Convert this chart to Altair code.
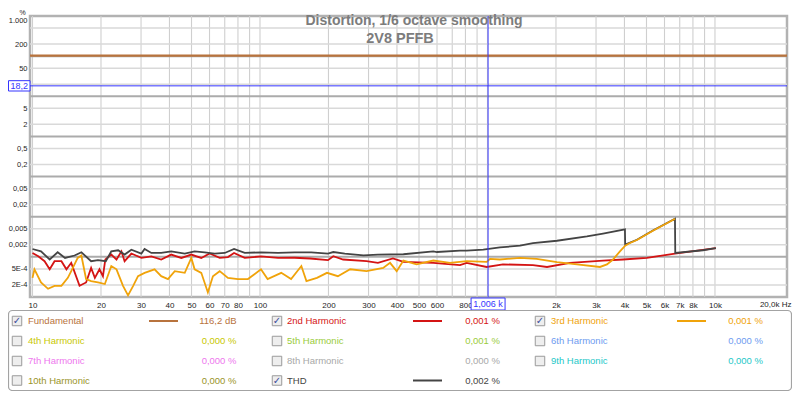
import altair as alt
import pandas as pd

# ---------------- data ----------------
title_line1 = "Distortion, 1/6 octave smoothing"
title_line2 = "2V8 PFFB"

thd_freq = [10, 10.9, 11.9, 12.9, 13.9, 15.3, 16.4, 18.1, 19.4, 21.0, 22.2, 23.8, 25.4, 27.2,
            30.1, 31.1, 33.3, 36.8, 40.7, 46.7, 51.6, 57.1, 63.2, 70.0, 76.9, 85.7, 101, 120,
            142, 168, 199, 210, 236, 285, 330, 427, 578, 600, 757, 810, 958, 1134, 1390, 1585,
            2020, 2736, 3220, 4020, 4030, 4540, 5335, 6670, 6690, 8850, 10090]
thd_pct = [0.00157, 0.00137, 0.00086, 0.00130, 0.00094, 0.00108, 0.00130, 0.00078, 0.00083,
           0.00078, 0.00137, 0.00146, 0.00114, 0.00151, 0.00121, 0.00157, 0.00125, 0.00125,
           0.00137, 0.00121, 0.00137, 0.00130, 0.00121, 0.00125, 0.00157, 0.00125, 0.00130,
           0.00125, 0.00130, 0.00130, 0.00121, 0.00132, 0.00121, 0.00109, 0.00114, 0.00116,
           0.00137, 0.00132, 0.00143, 0.00143, 0.00151, 0.00172, 0.00190, 0.00220, 0.00252,
           0.00322, 0.00381, 0.00487, 0.00201, 0.00267, 0.00452, 0.00893, 0.00125, 0.00146,
           0.00166]

h2_freq = [10, 10.6, 11.3, 11.9, 12.5, 13.4, 14.1, 14.8, 16.1, 17.2, 18.1, 18.8, 19.7, 20.4,
           20.9, 22.2, 23.4, 24.6, 25.4, 27.2, 30.1, 33.3, 36.8, 40.7, 45.1, 49.9, 55.2, 60.1,
           66.5, 72.3, 76.9, 85.7, 101, 120, 142, 166, 199, 210, 232, 294, 330, 384, 427, 578,
           757, 810, 992, 1170, 1585, 1827, 2305, 3220, 3943, 5020, 6670, 10090]
h2_pct = [0.00125, 0.00103, 0.00078, 0.00049, 0.00078, 0.00078, 0.00049, 0.00071, 0.00019,
          0.00023, 0.00053, 0.00030, 0.00049, 0.00033, 0.00086, 0.00114, 0.00086, 0.00137,
          0.00078, 0.00121, 0.00094, 0.00103, 0.00086, 0.00114, 0.00094, 0.00114, 0.00094,
          0.00121, 0.00094, 0.00099, 0.00125, 0.00094, 0.00103, 0.00094, 0.00095, 0.00091,
          0.00083, 0.00104, 0.00086, 0.00078, 0.00071, 0.00091, 0.00075, 0.00071, 0.00062,
          0.00071, 0.00056, 0.00065, 0.00062, 0.00056, 0.00071, 0.00081, 0.00086, 0.00094,
          0.00121, 0.00166]

h3_freq = [10, 10.2, 10.9, 11.7, 12.5, 13.4, 14.3, 14.8, 15.8, 16.4, 17.2, 18.1, 19.4, 20.8,
           22.2, 23.4, 25.0, 26.3, 27.7, 29.1, 31.1, 34.4, 36.8, 39.4, 42.2, 46.7, 49.9, 51.6,
           55.2, 59.0, 62.1, 66.5, 72.3, 80.0, 88.5, 101, 108, 124, 137, 152, 160, 178, 197,
           220, 249, 294, 348, 373, 399, 427, 488, 578, 684, 810, 992, 1026, 1134, 1390, 1645,
           2020, 2474, 3123, 3352, 3562, 3822, 4030, 4230, 4540, 5335, 6530, 6670]
h3_pct = [0.00030, 0.00049, 0.00023, 0.00016, 0.00019, 0.00019, 0.00030, 0.00044, 0.00094,
          0.00108, 0.00028, 0.00025, 0.00023, 0.00021, 0.00059, 0.00049, 0.00019, 0.00011,
          0.00019, 0.00033, 0.00040, 0.00049, 0.00033, 0.00028, 0.00044, 0.00040, 0.00094,
          0.00049, 0.00040, 0.00013, 0.00033, 0.00044, 0.00030, 0.00028, 0.00028, 0.00049,
          0.00028, 0.00040, 0.00028, 0.00059, 0.00025, 0.00030, 0.00040, 0.00033, 0.00049,
          0.00044, 0.00053, 0.00071, 0.00044, 0.00081, 0.00065, 0.00081, 0.00071, 0.00078,
          0.00075, 0.00089, 0.00086, 0.00094, 0.00089, 0.00074, 0.00065, 0.00056, 0.00065,
          0.00086, 0.00137, 0.00190, 0.00222, 0.00263, 0.00445, 0.00830, 0.00885]

fund_freq = [9.75, 20730]
fund_pct = [103.5, 103.5]

cursor_freq = 1006
cursor_pct = 18.2
cursor_freq_label = "1,006 k"
cursor_pct_label = "18,2"

x_tick_values = [10, 20, 30, 40, 50, 60, 70, 80, 100, 200, 300, 400, 500, 600, 800,
                 2000, 3000, 4000, 5000, 6000, 7000, 8000, 10000]
x_tick_labels = ["10", "20", "30", "40", "50", "60", "70", "80", "100", "200", "300", "400",
                 "500", "600", "800", "2k", "3k", "4k", "5k", "6k", "7k", "8k", "10k"]
x_end_label = "20,0k Hz"
y_tick_values = [1000, 200, 50, 5, 2, 0.5, 0.2, 0.05, 0.02, 0.005, 0.002, 0.0005, 0.0002]
y_tick_labels = ["1.000", "200", "50", "5", "2", "0,5", "0,2", "0,05", "0,02", "0,005",
                 "0,002", "5E-4", "2E-4"]
y_unit = "%"

grid_x = [10, 20, 30, 40, 50, 60, 70, 80, 90, 100, 200, 300, 400, 500, 600, 700, 800, 900,
          1000, 2000, 3000, 4000, 5000, 6000, 7000, 8000, 9000, 10000]
grid_y_major = [0.001, 0.01, 0.1, 1, 10, 100]
grid_y_minor = [0.0002, 0.0005, 0.002, 0.005, 0.02, 0.05, 0.2, 0.5, 2, 5, 20, 50, 200, 500]

legend_names = ["Fundamental", "2nd Harmonic", "3rd Harmonic", "4th Harmonic", "5th Harmonic",
                "6th Harmonic", "7th Harmonic", "8th Harmonic", "9th Harmonic",
                "10th Harmonic", "THD"]
legend_values = ["116,2 dB", "0,001 %", "0,001 %", "0,000 %", "0,001 %", "0,000 %",
                 "0,000 %", "0,000 %", "0,000 %", "0,000 %", "0,002 %"]
legend_checked = [True, True, True, False, False, False, False, False, False, False, True]

# ---------------- styles / layout ----------------
C_FUND = "#b8733d"
C_H2 = "#d41414"
C_H3 = "#f0a30a"
C_THD = "#444444"
legend_colors = [C_FUND, C_H2, C_H3, "#c8c800", "#9acc3a", "#6e9bf0", "#ee77ee", "#a8a8a8",
                 "#1ec8c8", "#9a9428", C_THD]
FONT = "Liberation Sans"
W, H = 757, 281
CURSOR = "#3535ff"

xscale = alt.Scale(type="log", domain=[9.75, 20730], nice=False)
yscale = alt.Scale(type="log", domain=[0.0001, 1000], nice=False)


def lookup_expr(values, labels):
    v = ",".join(repr(x) for x in values)
    l = ",".join("'" + s + "'" for s in labels)
    return f"[{l}][indexof([{v}], datum.value)]"


xaxis = alt.Axis(values=x_tick_values, labelExpr=lookup_expr(x_tick_values, x_tick_labels),
                 grid=False, ticks=False, domain=False, labelFontSize=8, labelFont=FONT,
                 labelColor="#1e1e1e", labelPadding=4, labelFlush=False, labelOverlap=False,
                 title=None)
yaxis = alt.Axis(values=y_tick_values, labelExpr=lookup_expr(y_tick_values, y_tick_labels),
                 grid=False, ticks=False, domain=False, labelFontSize=7.5, labelFont=FONT,
                 labelColor="#1e1e1e", labelPadding=3, labelFlush=False, labelOverlap=False,
                 labelOffset={"condition": {"test": "datum.value == 1000", "value": 4.5},
                              "value": 0},
                 title=None)


def X(field):
    return alt.X(field, type="quantitative", scale=xscale, axis=xaxis)


def Y(field):
    return alt.Y(field, type="quantitative", scale=yscale, axis=yaxis)


# grid
gx = alt.Chart(pd.DataFrame({"f": grid_x})).mark_rule(color="#cfcfcf", strokeWidth=1.1).encode(x=X("f"))
gy_minor = alt.Chart(pd.DataFrame({"v": grid_y_minor})).mark_rule(color="#d9d9d9", strokeWidth=1.5).encode(y=Y("v"))
gy_major = alt.Chart(pd.DataFrame({"v": grid_y_major})).mark_rule(color="#ababab", strokeWidth=2).encode(y=Y("v"))


def curve(freq, pct, color, width=1.8):
    df = pd.DataFrame({"f": freq, "v": pct})
    return alt.Chart(df).mark_line(color=color, strokeWidth=width, clip=True).encode(
        x=X("f"), y=Y("v"), order=alt.Order("idx:Q")
    ).transform_window(idx="row_number()")


fund = curve(fund_freq, fund_pct, C_FUND, 2.2)
h2 = curve(h2_freq, h2_pct, C_H2)
thd = curve(thd_freq, thd_pct, C_THD)
h3 = curve(h3_freq, h3_pct, C_H3)

# cursor
one = pd.DataFrame({"k": [0]})
cur_v = alt.Chart(one).mark_rule(color=CURSOR, strokeWidth=1).encode(
    x=alt.X(datum=cursor_freq, type="quantitative", scale=xscale, axis=xaxis))
cur_h = alt.Chart(one).mark_rule(color=CURSOR, strokeWidth=1).encode(
    y=alt.Y(datum=cursor_pct, type="quantitative", scale=yscale, axis=yaxis))
box_x = alt.Chart(one).mark_point(shape="M-1,-0.353L1,-0.353L1,0.353L-1,0.353Z", size=34 * 34,
                                  filled=True, fill="white", stroke=CURSOR, strokeWidth=1,
                                  opacity=1).encode(
    x=alt.X(datum=cursor_freq, type="quantitative", scale=xscale, axis=xaxis),
    y=alt.value(H + 7))
txt_x = alt.Chart(one).mark_text(font=FONT, fontSize=9, color=CURSOR, baseline="middle",
                                 align="center").encode(
    x=alt.X(datum=cursor_freq, type="quantitative", scale=xscale, axis=xaxis),
    y=alt.value(H + 7), text=alt.value(cursor_freq_label))
box_y = alt.Chart(one).mark_point(shape="M-1,-0.48L1,-0.48L1,0.48L-1,0.48Z", size=21.5 * 21.5,
                                  filled=True, fill="white", stroke=CURSOR, strokeWidth=1,
                                  opacity=1).encode(
    x=alt.value(-10.75),
    y=alt.Y(datum=cursor_pct, type="quantitative", scale=yscale, axis=yaxis))
txt_y = alt.Chart(one).mark_text(font=FONT, fontSize=9, color=CURSOR, baseline="middle",
                                 align="center").encode(
    x=alt.value(-10.75),
    y=alt.Y(datum=cursor_pct, type="quantitative", scale=yscale, axis=yaxis),
    text=alt.value(cursor_pct_label))

# titles and unit
t1 = alt.Chart(one).mark_text(font=FONT, fontSize=14, fontWeight="bold", color="#7c7c7c",
                              align="center", baseline="alphabetic").encode(
    x=alt.value(384), y=alt.value(9), text=alt.value(title_line1))
t2 = alt.Chart(one).mark_text(font=FONT, fontSize=14.5, fontWeight="bold", color="#7c7c7c",
                              align="center", baseline="alphabetic").encode(
    x=alt.value(370), y=alt.value(27), text=alt.value(title_line2))
unit = alt.Chart(one).mark_text(font=FONT, fontSize=7, color="#1e1e1e", align="center",
                                baseline="alphabetic").encode(
    x=alt.value(-7.5), y=alt.value(-1.5), text=alt.value(y_unit))
xend = alt.Chart(one).mark_text(font=FONT, fontSize=8, color="#1e1e1e", align="right",
                                baseline="top").encode(
    x=alt.value(761.5), y=alt.value(H + 4), text=alt.value(x_end_label))

# legend layout
COL_CHECK_X = [-13, 247, 510]
COL_LABEL_X = [-2, 257, 521]
COL_SAMPLE_X = [119, 383, 647]
SAMPLE_LEN = 29
COL_VALUE_X = [206.5, 470, 733]
ROW_Y = [305, 325, 345, 364.5]

rows = []
for i, name in enumerate(legend_names):
    r, c = divmod(i, 3)
    rows.append({
        "name": name, "val": legend_values[i], "color": legend_colors[i],
        "checked": legend_checked[i], "cx": COL_CHECK_X[c], "lx": COL_LABEL_X[c],
        "sx": COL_SAMPLE_X[c], "sx2": COL_SAMPLE_X[c] + SAMPLE_LEN, "vx": COL_VALUE_X[c],
        "ry": ROW_Y[r], "mark": "\u2713",
    })
leg = pd.DataFrame(rows)
checked = leg[leg["checked"]]

PX = lambda f: alt.X(f, type="quantitative", scale=None, axis=None)
PY = lambda f: alt.Y(f, type="quantitative", scale=None, axis=None)

leg_box = alt.Chart(one).mark_rect(fill="white", stroke="#a3a3a3", strokeWidth=1.2,
                                   cornerRadius=4).encode(
    x=alt.value(-21.5), x2=alt.value(761.5), y=alt.value(294.5), y2=alt.value(374.5))
leg_sq = alt.Chart(leg).mark_square(size=90, fill="#eeeeee", stroke="#9a9a9a", strokeWidth=1,
                                    opacity=1).encode(x=PX("cx"), y=PY("ry"))
leg_chk = alt.Chart(checked).mark_text(font="DejaVu Sans", fontSize=10, fontWeight="bold",
                                       color="#3a4d9c", align="center",
                                       baseline="middle").encode(
    x=PX("cx"), y=PY("ry"), text="mark:N")
leg_line = alt.Chart(checked).mark_rule(strokeWidth=2).encode(
    x=PX("sx"), x2="sx2:Q", y=PY("ry"), color=alt.Color("color:N", scale=None))
leg_lab = alt.Chart(leg).mark_text(font=FONT, fontSize=9.5, align="left",
                                   baseline="middle").encode(
    x=PX("lx"), y=PY("ry"), text="name:N", color=alt.Color("color:N", scale=None))
leg_val = alt.Chart(leg).mark_text(font=FONT, fontSize=9.5, align="right",
                                   baseline="middle").encode(
    x=PX("vx"), y=PY("ry"), text="val:N", color=alt.Color("color:N", scale=None))

chart = alt.layer(
    gx, gy_minor, gy_major, fund, h2, thd, h3, cur_v, cur_h, box_x, txt_x, box_y, txt_y,
    t1, t2, unit, xend, leg_box, leg_sq, leg_chk, leg_line, leg_lab, leg_val
).properties(
    width=W, height=H,
    autosize=alt.AutoSizeParams(type="none"),
    padding={"left": 22, "top": 8, "right": 5, "bottom": 94},
    background="white",
).configure_view(stroke="#b2b2b2", strokeWidth=2.5)

chart.save("out.html", embed_options={"renderer": "svg", "actions": False})
